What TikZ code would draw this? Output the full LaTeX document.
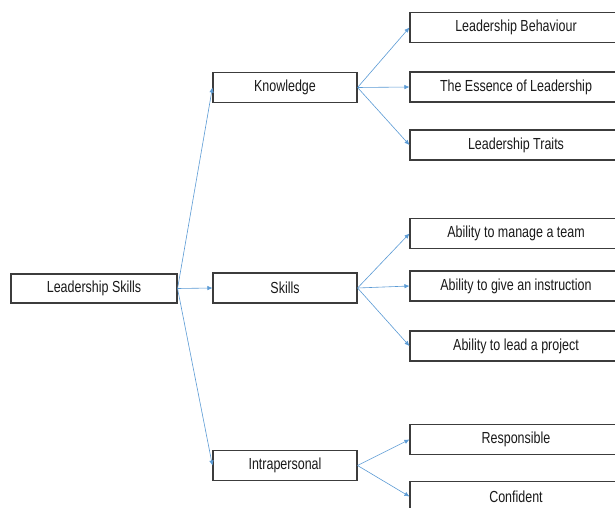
\documentclass[tikz,border=0pt]{standalone}
\usepackage{fontspec}
\setmainfont[FakeStretch=0.78]{Liberation Sans}
\usetikzlibrary{arrows.meta}
\definecolor{boxline}{HTML}{3C3C3C}
\definecolor{arrowblue}{HTML}{5B9BD5}
\definecolor{txt}{HTML}{1A1A1A}
\begin{document}
\begin{tikzpicture}[x=1pt,y=-1pt,
  box/.style={draw=boxline,line width=1.1pt,fill=white,inner sep=0pt,
    text=txt,font=\fontsize{16}{18}\selectfont,minimum height=30pt},
  midbox/.style={box,minimum width=144pt},
  leafbox/.style={box,minimum width=212pt},
  conn/.style={draw=arrowblue,line width=0.6pt,-{Latex[length=5pt,width=4.5pt]}}]
\useasboundingbox (0,0) rectangle (615,508);
\fill[white] (0,0) rectangle (615,508);
\clip (0,0) rectangle (615,508);

\node[box,minimum width=166pt,minimum height=29pt] (root) at (94,288.5) {Leadership Skills};

\node[midbox] (know) at (285,87.5) {Knowledge};
\node[midbox] (skill) at (285,288) {Skills};
\node[midbox] (intra) at (285,465.5) {Intrapersonal};

\node[leafbox] (lb) at (516,27.5) {Leadership Behaviour};
\node[leafbox] (es) at (516,87) {The Essence of Leadership};
\node[leafbox] (lt) at (516,145) {Leadership Traits};

\node[leafbox] (mt) at (516,233.5) {Ability to manage a team};
\node[leafbox] (gi) at (516,286) {Ability to give an instruction};
\node[leafbox] (lp) at (516,346) {Ability to lead a project};

\node[leafbox] (re) at (516,439.5) {Responsible};
\node[leafbox] (co) at (516,496.5) {Confident};

\draw[conn] (root.east) -- (know.west);
\draw[conn] (root.east) -- (skill.west);
\draw[conn] (root.east) -- (intra.west);

\draw[conn] (know.east) -- (lb.west);
\draw[conn] (know.east) -- (es.west);
\draw[conn] (know.east) -- (lt.west);

\draw[conn] (skill.east) -- (mt.west);
\draw[conn] (skill.east) -- (gi.west);
\draw[conn] (skill.east) -- (lp.west);

\draw[conn] (intra.east) -- (re.west);
\draw[conn] (intra.east) -- (co.west);
\end{tikzpicture}
\end{document}
